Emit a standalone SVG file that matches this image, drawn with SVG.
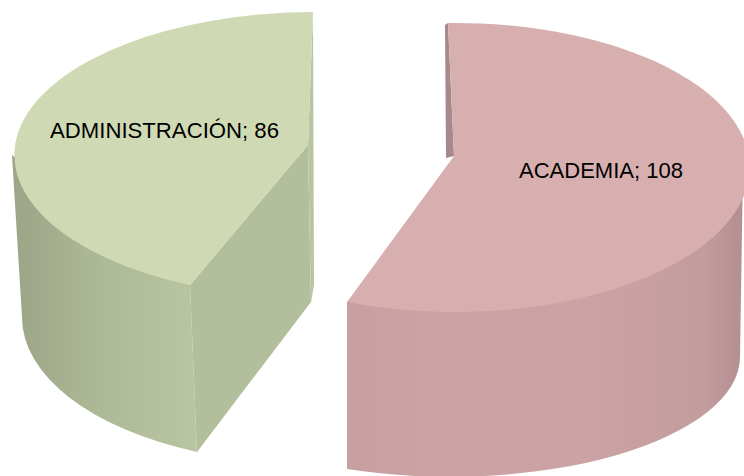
<svg xmlns="http://www.w3.org/2000/svg" width="744" height="476" viewBox="0 0 744 476">
  <defs>
    <linearGradient id="gSide" gradientUnits="userSpaceOnUse" x1="12" y1="0" x2="200" y2="0">
      <stop offset="0" stop-color="#9ba587"/>
      <stop offset="0.45" stop-color="#adb896"/>
      <stop offset="1" stop-color="#bac6a2"/>
    </linearGradient>
    <linearGradient id="pSide" gradientUnits="userSpaceOnUse" x1="347" y1="0" x2="743" y2="0">
      <stop offset="0" stop-color="#c89fa0"/>
      <stop offset="0.2" stop-color="#cca3a4"/>
      <stop offset="0.6" stop-color="#cca3a4"/>
      <stop offset="0.9" stop-color="#c39c9e"/>
      <stop offset="1" stop-color="#b38f91"/>
    </linearGradient>
    <style>
      .lbl { font-family: "Liberation Sans", Arial, sans-serif; font-size: 22px; fill: #000000; }
      .gTop { fill: #cfdab4; }
      .gFront { fill: #b2be9c; }
      .gBack { fill: #b9c5a2; }
      .pTop { fill: #d8afaf; }
      .pBack { fill: #a8898b; }
    </style>
  </defs>

  <g id="slice-administracion">
    <path d="M 12,155 L 190,285 L 197,452 A 291 147 0 0 1 22,317 Z" fill="url(#gSide)"/>
    <path class="gFront" d="M 190,285 L 308,145 L 311,302 L 197,452 Z"/>
    <path class="gBack" d="M 313,12 L 314,285 L 311,302 L 308,145 Z"/>
    <path class="gTop" d="M 313,12 A 301 143 0 0 0 190,285 L 308,145 Z"/>
    <text class="lbl" x="50" y="138" textLength="229" lengthAdjust="spacingAndGlyphs">ADMINISTRACIÓN; 86</text>
  </g>

  <g id="slice-academia">
    <path d="M 743,167.5 L 347,302 L 347,469 A 290 120 0 0 0 740,357 Z" fill="url(#pSide)"/>
    <path class="pBack" d="M 448,23 L 454,156 L 446,158 L 445,25 Z"/>
    <path class="pTop" d="M 448,23 A 295 144.5 0 1 1 347,302 L 454,156 Z"/>
    <text class="lbl" x="519" y="177.5" textLength="164" lengthAdjust="spacingAndGlyphs">ACADEMIA; 108</text>
  </g>
</svg>
